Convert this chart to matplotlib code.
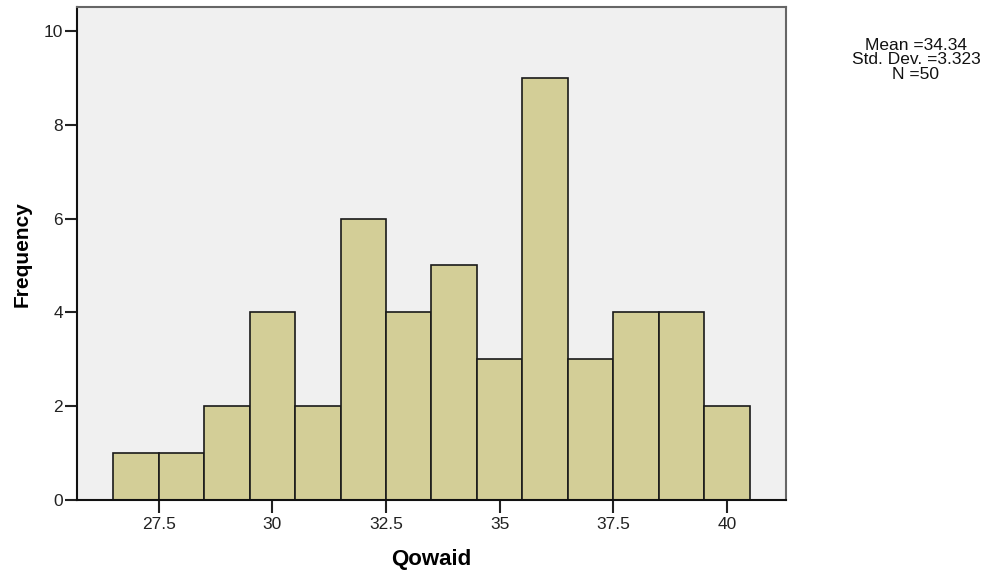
import matplotlib
matplotlib.use("Agg")
import matplotlib.pyplot as plt

plt.rcParams['font.family'] = ['Liberation Sans', 'DejaVu Sans']

# histogram data (bins of width 1)
bin_centers = [27, 28, 29, 30, 31, 32, 33, 34, 35, 36, 37, 38, 39, 40]
counts = [1, 1, 2, 4, 2, 6, 4, 5, 3, 9, 3, 4, 4, 2]
x_ticks = [27.5, 30, 32.5, 35, 37.5, 40]
x_tick_labels = ['27.5', '30', '32.5', '35', '37.5', '40']
y_ticks = [0, 2, 4, 6, 8, 10]
stats_text = "Mean =34.34\nStd. Dev. =3.323\nN =50"

fig = plt.figure(figsize=(9.88, 5.71), dpi=100)
ax = fig.add_axes([0.0779, 0.1243, 0.7176, 0.8627])
ax.set_facecolor('#f0f0f0')

ax.bar(bin_centers, counts, width=1.0, color='#d3ce97', edgecolor='#1a1a1a',
       linewidth=1.2, zorder=2)

ax.set_xlim(25.7, 41.3)
ax.set_ylim(0, 10.5)
ax.set_xticks(x_ticks)
ax.set_xticklabels(x_tick_labels)
ax.set_yticks(y_ticks)
ax.tick_params(axis='both', direction='out', length=9, width=1.5,
               labelsize=12.5, color='#222222', labelcolor='#222222')
ax.tick_params(axis='y', pad=1)

for side in ['left', 'bottom']:
    ax.spines[side].set_color('#111111')
    ax.spines[side].set_linewidth(1.5)
for side in ['top', 'right']:
    ax.spines[side].set_color('#666666')
    ax.spines[side].set_linewidth(1.5)

ax.set_xlabel('Qowaid', fontsize=16, fontweight='bold', labelpad=12)
ax.set_ylabel('Frequency', fontsize=15, fontweight='bold', labelpad=9)

fig.text(0.927, 0.895, stats_text, ha='center', va='center', fontsize=12.5,
         linespacing=0.95, color='#111111')

fig.savefig('out.png', dpi=100)
